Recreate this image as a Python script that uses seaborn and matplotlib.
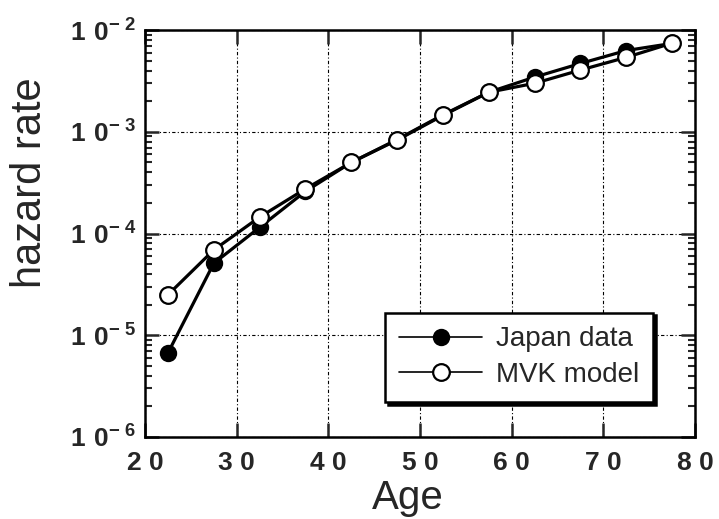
import numpy as np
import pandas as pd
import matplotlib
matplotlib.use('Agg')
import matplotlib.pyplot as plt
import matplotlib.ticker as mticker
import seaborn as sns

# --- data ---
age = [22.5, 27.5, 32.5, 37.5, 42.5, 47.5, 52.5, 57.5, 62.5, 67.5, 72.5, 77.5]
japan = [6.7e-6, 5.1e-5, 1.15e-4, 2.6e-4, 5.0e-4, 8.4e-4, 1.47e-3, 2.45e-3,
         3.45e-3, 4.7e-3, 6.3e-3, 7.4e-3]
mvk = [2.5e-5, 6.9e-5, 1.45e-4, 2.75e-4, 5.0e-4, 8.3e-4, 1.45e-3, 2.45e-3,
       3.0e-3, 4.05e-3, 5.4e-3, 7.45e-3]
series_names = ['Japan data', 'MVK model']

sns.set_style('ticks')
plt.rcParams['font.family'] = ['Liberation Sans', 'DejaVu Sans']
plt.rcParams['mathtext.fontset'] = 'custom'
plt.rcParams['mathtext.rm'] = 'Liberation Sans:bold'
plt.rcParams['mathtext.bf'] = 'Liberation Sans:bold'

df = pd.DataFrame({'age': age, 'Japan data': japan, 'MVK model': mvk})

fig = plt.figure(figsize=(7.19, 5.19), dpi=100)
ax = fig.add_axes([0.2017, 0.158, 0.765, 0.784])

sns.lineplot(data=df, x='age', y='Japan data', ax=ax, color='black', lw=2.3,
             marker='o', markersize=11, markerfacecolor='black',
             markeredgecolor='black', markeredgewidth=1.5, label=series_names[0],
             zorder=3)
sns.lineplot(data=df, x='age', y='MVK model', ax=ax, color='black', lw=2.3,
             marker='o', markersize=12, markerfacecolor='white',
             markeredgecolor='black', markeredgewidth=1.6, label=series_names[1],
             zorder=4)

ax.set_yscale('log')
ax.set_xlim(20, 80)
ax.set_ylim(1e-6, 1e-2)

ax.xaxis.set_major_locator(mticker.MultipleLocator(10))
ax.yaxis.set_major_locator(mticker.LogLocator(base=10, numticks=10))
ax.yaxis.set_minor_locator(mticker.LogLocator(base=10, subs=np.arange(2, 10), numticks=10))
ax.yaxis.set_minor_formatter(mticker.NullFormatter())


def xfmt(v, pos):
    return ' '.join(str(int(round(v))))


def yfmt(v, pos):
    e = int(round(np.log10(v)))
    return r'$\mathbf{1\ 0^{-\ %d}}$' % abs(e)


ax.xaxis.set_major_formatter(mticker.FuncFormatter(xfmt))
ax.yaxis.set_major_formatter(mticker.FuncFormatter(yfmt))

ax.tick_params(axis='both', which='major', direction='in', length=10, width=1.8,
               top=True, right=True)
ax.tick_params(axis='x', which='major', labelsize=19, pad=10)
ax.tick_params(axis='y', which='major', labelsize=19, pad=6)
ax.tick_params(axis='y', which='minor', direction='in', length=5, width=1.5,
               left=True, right=True)
for lab in ax.get_xticklabels():
    lab.set_fontweight('bold')

for s in ax.spines.values():
    s.set_linewidth(1.8)
    s.set_color('black')

ax.grid(True, which='major', color='black', lw=0.8, ls=(0, (3, 2, 1, 2)))

ax.set_xlabel('Age', fontsize=29)
ax.set_ylabel('hazard rate', fontsize=30)
ax.xaxis.set_label_coords(0.478, -0.102)
ax.yaxis.set_label_coords(-0.172, 0.624)

leg = ax.legend(loc='lower right', bbox_to_anchor=(0.924, 0.086), fontsize=20,
                frameon=True, fancybox=False, handlelength=3.0, handletextpad=0.5,
                borderpad=0.5, labelspacing=0.35, borderaxespad=0,
                shadow={'color': 'black', 'alpha': 1})
leg.get_frame().set_edgecolor('black')
leg.get_frame().set_linewidth(1.8)
leg.get_frame().set_alpha(1)
for h in leg.legend_handles:
    h.set_linewidth(1.2)

fig.savefig('out.png', dpi=100)
